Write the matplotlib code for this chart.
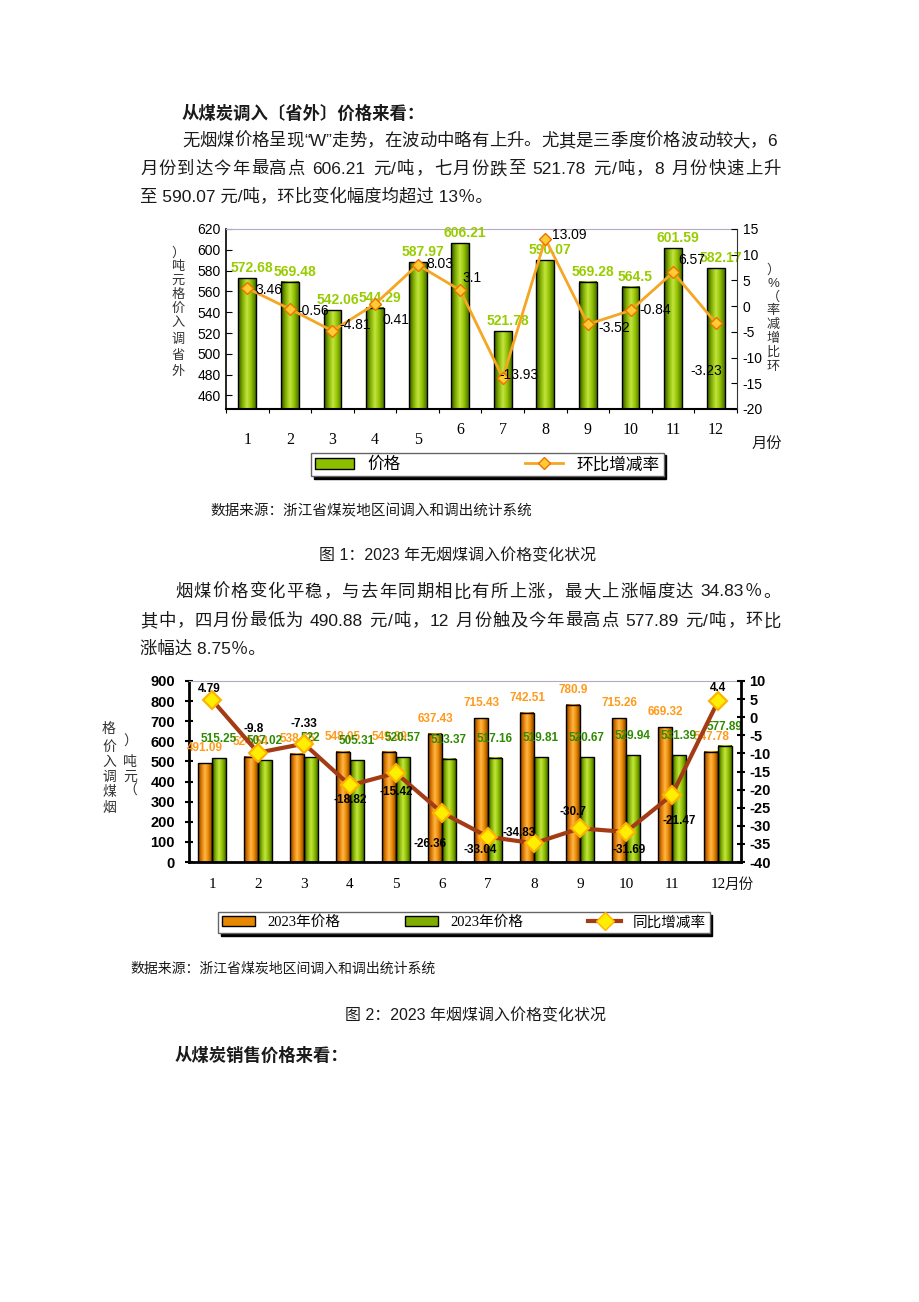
import re
import numpy as np
import matplotlib
matplotlib.use("Agg")
import matplotlib.pyplot as plt
from matplotlib.lines import Line2D
from matplotlib.patches import Patch
from matplotlib.colors import LinearSegmentedColormap

plt.rcParams["font.family"] = ["Liberation Sans", "Noto Sans CJK SC", "DejaVu Sans"]
plt.rcParams["axes.unicode_minus"] = False

# Data
months = list(range(1, 13))

# figure 1: anthracite
anthracite_price = [572.68, 569.48, 542.06, 544.29, 587.97, 606.21,
                    521.78, 590.07, 569.28, 564.5, 601.59, 582.17]
anthracite_mom = [3.46, -0.56, -4.81, 0.41, 8.03, 3.1,
                  -13.93, 13.09, -3.52, -0.84, 6.57, -3.23]

# figure 2: bituminous
bitum_price_a = [491.09, 524.54, 538.65, 548.05, 549.39, 637.43,
                 715.43, 742.51, 780.9, 715.26, 669.32, 547.78]
bitum_price_b = [515.25, 507.02, 522, 505.31, 520.57, 513.37,
                 517.16, 519.81, 520.67, 529.94, 531.39, 577.89]
bitum_yoy = [4.79, -9.8, -7.33, -18.82, -15.42, -26.36,
             -33.04, -34.83, -30.7, -31.69, -21.47, 4.4]

left1_ticks = [460, 480, 500, 520, 540, 560, 580, 600, 620]
right1_ticks = [-20, -15, -10, -5, 0, 5, 10, 15]
left2_ticks = [0, 100, 200, 300, 400, 500, 600, 700, 800, 900]
right2_ticks = [-40, -35, -30, -25, -20, -15, -10, -5, 0, 5, 10]

W, H = 920, 1302
CJK = ["Liberation Sans", "Noto Sans CJK SC"]
SERIF = ["Liberation Serif", "Noto Sans CJK SC"]
TXT = "#1a1a1a"

fig = plt.figure(figsize=(W / 100, H / 100), dpi=100)
renderer = fig.canvas.get_renderer()


def box(l, t, r, b):
    return [l / W, 1 - b / H, (r - l) / W, (b - t) / H]


def ftext(x, y, s, **kw):
    kw.setdefault("va", "center")
    kw.setdefault("family", CJK)
    kw.setdefault("color", TXT)
    fig.text(x / W, 1 - y / H, s, **kw)


def text_width(s, **kw):
    t = fig.text(0, 0, s, **kw)
    w = t.get_window_extent(renderer).width
    t.remove()
    return w


def justify(x0, x1, y, s, size=12.5):
    # spread a line of text between x0 and x1, like a justified paragraph
    kw = dict(fontsize=size, family=CJK, color=TXT, va="center")
    tokens = re.findall(r"[0-9A-Za-z./“”]+|\s|.", s)
    widths = [size * 100 / 72 * 0.3 if tk.isspace() else text_width(tk, **kw)
              for tk in tokens]
    gap = (x1 - x0 - sum(widths)) / (len(tokens) - 1)
    x = x0
    for tk, w in zip(tokens, widths):
        if not tk.isspace():
            fig.text(x / W, 1 - y / H, tk, **kw)
        x += w + gap


def shade(ax, bars, colors):
    cmap = LinearSegmentedColormap.from_list("g", colors)
    grad = np.linspace(0, 1, 64).reshape(1, -1)
    for b in bars:
        x0, y0 = b.get_x(), b.get_y()
        ax.imshow(grad, extent=[x0, x0 + b.get_width(), y0, y0 + b.get_height()],
                  aspect="auto", cmap=cmap, zorder=2.5, interpolation="bilinear")


GREEN = ["#355000", "#7fae00", "#c4e640", "#8fc000", "#4a7000"]
ORANGE = ["#7a3800", "#e07a00", "#ffb84a", "#e88800", "#8a4400"]

# Body text
ftext(182, 113, "从煤炭调入〔省外〕价格来看：", fontsize=12.5, fontweight="bold")
justify(182, 777, 141, "无烟煤价格呈现“W”走势，在波动中略有上升。尤其是三季度价格波动较大，6")
justify(140, 781, 169, "月份到达今年最高点 606.21 元/吨，七月份跌至 521.78 元/吨，8 月份快速上升")
ftext(140, 197, "至 590.07 元/吨，环比变化幅度均超过 13％。", fontsize=12.5)

# Figure 1
ax1 = fig.add_axes(box(226, 229, 737, 409))
x = np.array(months)
bars1 = ax1.bar(x, anthracite_price, width=0.42, facecolor="none",
                edgecolor="black", linewidth=1.0, zorder=3)
shade(ax1, bars1, GREEN)
ax1.set_xlim(0.5, 12.5)
ax1.set_ylim(447, 620)
ax1.set_yticks(left1_ticks)
ax1.tick_params(axis="y", direction="in", length=4, labelsize=10, pad=4)
ax1.set_xticks(np.arange(0.5, 13, 1))
ax1.set_xticklabels([])
ax1.tick_params(axis="x", direction="out", length=3)
ax1.spines["right"].set_visible(False)
ax1.spines["top"].set_color("#b8a8c8")
ax1.spines["left"].set_linewidth(1.2)
ax1.spines["bottom"].set_linewidth(1.5)

for m, v in zip(months, anthracite_price):
    ax1.annotate(f"{v:g}", (m, v), xytext=(5, 10), textcoords="offset pixels",
                 ha="center", va="center", fontsize=10, fontweight="bold",
                 color="#99cc00", zorder=6)

for m in months:
    ax1.annotate(str(m), (m, 0), xycoords=ax1.get_xaxis_transform(),
                 xytext=(0, -31 if m <= 5 else -21), textcoords="offset pixels",
                 ha="center", va="center", fontsize=11.5, family=SERIF)
ftext(752, 445, "月份", fontsize=11)

ax1r = ax1.twinx()
ax1r.plot(x, anthracite_mom, color="#f5a623", lw=2, marker="D", ms=6,
          mfc="#ffcc33", mec="#f07000", zorder=5)
ax1r.set_ylim(-20, 15)
ax1r.set_yticks(right1_ticks)
ax1r.tick_params(axis="y", direction="in", length=4, labelsize=10, pad=4)
for s in ["top", "left", "bottom"]:
    ax1r.spines[s].set_visible(False)
ax1r.spines["right"].set_color("#333333")

mom_offsets = [(8, -2), (7, -2), (7, 6), (7, -16), (9, 1), (2, 12),
               (-3, 3), (7, 4), (10, -4), (9, 0), (5, 12), (-25, -48)]
for m, v, off in zip(months, anthracite_mom, mom_offsets):
    ax1r.annotate(f"{v:g}", (m, v), xytext=off, textcoords="offset pixels",
                  ha="left", va="center", fontsize=10, color="black", zorder=6)

# axis titles as stacked characters
for i, ch in enumerate("）吨元格价入"):
    ftext(178, 253 + i * 14, ch, fontsize=9.5, ha="center", color="#333333")
for i, ch in enumerate("调省外"):
    ftext(178, 340 + i * 16, ch, fontsize=9.5, ha="center", color="#333333")
for i, ch in enumerate("）%（率减增比环"):
    ftext(773, 270 + i * 13.8, ch, fontsize=9.5, ha="center", color="#333333")

h1 = [Patch(facecolor="#8cbf00", edgecolor="black"),
      Line2D([0], [0], color="#f5a623", lw=2, marker="D", ms=6,
             mfc="#ffcc33", mec="#f07000")]
fig.legend(h1, ["价格", "环比增减率"], loc="center",
           bbox_to_anchor=tuple(box(303, 447, 672, 482)), mode="expand", ncol=2,
           prop=dict(family=CJK, size=12), frameon=True, fancybox=False,
           edgecolor="#666666", shadow=dict(color="black", alpha=1),
           handlelength=2.3, borderpad=0.25, columnspacing=4)

ftext(210, 511, "数据来源：浙江省煤炭地区间调入和调出统计系统", fontsize=10.5)
ftext(458, 556, "图 1：2023 年无烟煤调入价格变化状况", fontsize=11.5, ha="center")

justify(175, 781, 592, "烟煤价格变化平稳，与去年同期相比有所上涨，最大上涨幅度达 34.83％。")
justify(140, 781, 621, "其中，四月份最低为 490.88 元/吨，12 月份触及今年最高点 577.89 元/吨，环比")
ftext(140, 649, "涨幅达 8.75％。", fontsize=12.5)

# Figure 2
ax2 = fig.add_axes(box(189, 681, 741, 862))
w = 0.3
bars_a = ax2.bar(x - w / 2, bitum_price_a, width=w, facecolor="none",
                 edgecolor="black", linewidth=1.0, zorder=3)
bars_b = ax2.bar(x + w / 2, bitum_price_b, width=w, facecolor="none",
                 edgecolor="black", linewidth=1.0, zorder=3)
shade(ax2, bars_a, ORANGE)
shade(ax2, bars_b, GREEN)
ax2.set_xlim(0.5, 12.5)
ax2.set_ylim(0, 900)
ax2.set_yticks(left2_ticks)
ax2.tick_params(axis="y", direction="inout", length=6, width=1.5, labelsize=10.5, pad=7)
for t in ax2.get_yticklabels():
    t.set_fontweight("bold")
ax2.set_xticks([])
ax2.spines["right"].set_visible(False)
ax2.spines["top"].set_color("#b8a8c8")
ax2.spines["left"].set_linewidth(2)
ax2.spines["bottom"].set_linewidth(2)

for m, v in zip(months, bitum_price_a):
    ax2.annotate(f"{v:g}", (m - w / 2, v), xytext=(0, 15), textcoords="offset pixels",
                 ha="center", va="center", fontsize=8.5, fontweight="bold",
                 color="#ff9a1a", zorder=6)
for m, v in zip(months, bitum_price_b):
    ax2.annotate(f"{v:g}", (m + w / 2, v), xytext=(0, 19), textcoords="offset pixels",
                 ha="center", va="center", fontsize=8.5, fontweight="bold",
                 color="#2e8b00", zorder=6)

for m in months:
    ax2.annotate(str(m), (m, 0), xycoords=ax2.get_xaxis_transform(),
                 xytext=(0, -23), textcoords="offset pixels",
                 ha="center", va="center", fontsize=11, family=SERIF)
ftext(725, 885, "月份", fontsize=10.5)

ax2r = ax2.twinx()
ax2r.plot(x, bitum_yoy, color="#a33c14", lw=3, marker="D", ms=9,
          mfc="#ffee00", mec="#ffb000", mew=1.5, zorder=5)
ax2r.set_ylim(-40, 10)
ax2r.set_yticks(right2_ticks)
ax2r.tick_params(axis="y", direction="inout", length=6, width=1.5, labelsize=10.5, pad=3)
for t in ax2r.get_yticklabels():
    t.set_fontweight("bold")
for s in ["top", "left", "bottom"]:
    ax2r.spines[s].set_visible(False)
ax2r.spines["right"].set_linewidth(2)

yoy_offsets = [(-3, 11), (-4, 24), (0, 20), (0, -15), (0, -19), (-12, -31),
               (-8, -13), (-15, 10), (-7, 16), (3, -18), (7, -26), (0, 13)]
for m, v, off in zip(months, bitum_yoy, yoy_offsets):
    ax2r.annotate(f"{v:g}", (m, v), xytext=off, textcoords="offset pixels",
                  ha="center", va="center", fontsize=8.5, fontweight="bold",
                  color="black", zorder=6)

for ch, yy in zip("格价入调煤烟", [729, 747, 762, 777, 792, 808]):
    ftext(109, yy, ch, fontsize=10, ha="center", color="#333333")
for ch, yy in zip("）吨元（", [742, 762, 777, 791]):
    ftext(130, yy, ch, fontsize=10, ha="center", color="#333333")

h2 = [Patch(facecolor="#e88800", edgecolor="black"),
      Patch(facecolor="#7fae00", edgecolor="black"),
      Line2D([0], [0], color="#a33c14", lw=3, marker="D", ms=9,
             mfc="#ffee00", mec="#ffb000")]
fig.legend(h2, ["2023年价格", "2023年价格", "同比增减率"], loc="center",
           bbox_to_anchor=tuple(box(211, 908, 717, 937)), mode="expand", ncol=3,
           prop=dict(family=SERIF, size=10.5), frameon=True, fancybox=False,
           edgecolor="#666666", shadow=dict(color="black", alpha=1),
           handlelength=2.3, borderpad=0.25, columnspacing=3)

ftext(130, 969, "数据来源：浙江省煤炭地区间调入和调出统计系统", fontsize=10)
ftext(476, 1016, "图 2：2023 年烟煤调入价格变化状况", fontsize=11.5, ha="center")
ftext(175, 1055, "从煤炭销售价格来看：", fontsize=12.5, fontweight="bold")

fig.savefig("out.png", dpi=100, facecolor="white")
